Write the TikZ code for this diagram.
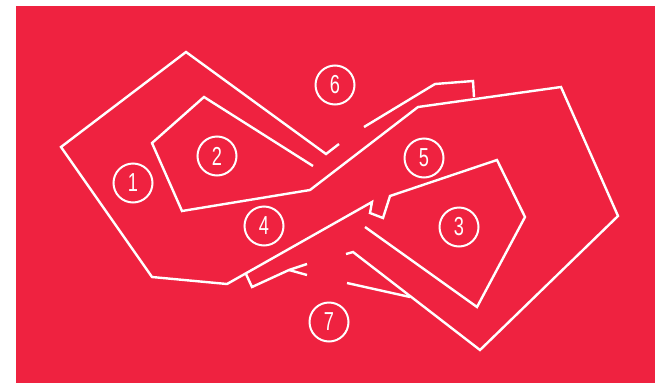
\documentclass[tikz,border=0pt]{standalone}
\usepackage{fontspec}
\setmainfont{Liberation Sans}
\definecolor{bgred}{RGB}{239,34,64}
\begin{document}
\begin{tikzpicture}[x=1pt,y=-1pt,
  track/.style={draw=white,line width=2.4pt},
  num/.style={circle,draw=white,line width=2pt,minimum size=39pt,inner sep=0pt,text=white,font=\fontsize{26}{26}\selectfont}]
\useasboundingbox (0,0) rectangle (655,383);
\fill[white] (0,0) rectangle (655,383);
\fill[bgred] (16,6) rectangle (655,383);
% outer track line
\draw[track] (339,144) -- (326,154) -- (186,52) -- (61,147) -- (152,277) -- (227,284)
  -- (372,202) -- (370,213) -- (383,218) -- (390,196) -- (497,160) -- (525,217)
  -- (477,307) -- (365,227);
% inner track line
\draw[track] (313,166) -- (204,97) -- (152,143) -- (182,211) -- (310,190) -- (418,107)
  -- (561,87) -- (618,216) -- (480,350) -- (353,252) -- (346,254);
% top branch
\draw[track] (364,127) -- (435,84) -- (473,81) -- (474,97);
% bottom left branch
\draw[track] (246,274) -- (252,287) -- (289,270) -- (307,264);
\draw[track] (289,270) -- (307,275);
% bottom right branch
\draw[track] (347,283) -- (410,297);
% numbers
\node[num] (n1) at (133,183) {\scalebox{0.7}[1]{1}};
\node[num] (n2) at (217,156) {\scalebox{0.7}[1]{2}};
\node[num] (n3) at (459,227) {\scalebox{0.7}[1]{3}};
\node[num] (n4) at (264,226) {\scalebox{0.7}[1]{4}};
\node[num] (n5) at (424,158) {\scalebox{0.7}[1]{5}};
\node[num] (n6) at (335,85) {\scalebox{0.7}[1]{6}};
\node[num] (n7) at (329,322) {\scalebox{0.7}[1]{7}};
\end{tikzpicture}
\end{document}
